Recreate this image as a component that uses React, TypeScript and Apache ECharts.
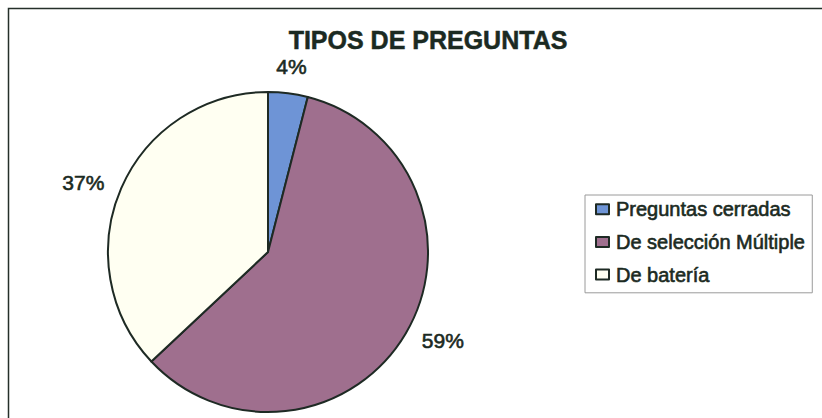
import React, { useEffect, useRef } from "react";
import * as echarts from "echarts";

const titleText = "TIPOS DE PREGUNTAS";
const categories = ["Preguntas cerradas", "De selección Múltiple", "De batería"];
const values = [4, 59, 37];
const sliceColors = ["#6e94d6", "#9f6f8e", "#fffff2"];

const inkColor = "#1b2a22";
const fontFamily = "'Liberation Sans', Arial, sans-serif";

export default function App() {
  const ref = useRef<HTMLDivElement>(null);

  useEffect(() => {
    if (!ref.current) return;
    const chart = echarts.init(ref.current, undefined, { renderer: "svg" });
    const data = categories.map((name, i) => ({
      name,
      value: values[i],
      itemStyle: { color: sliceColors[i] },
      labelLine: i === 0 ? { length: 27, length2: 0 } : undefined,
      label: i === 0 ? { distanceToLabelLine: 0 } : undefined,
    }));
    chart.setOption({
      animation: false,
      backgroundColor: "#ffffff",
      title: {
        text: titleText,
        left: 423,
        top: 22,
        textAlign: "center",
        textStyle: {
          fontFamily,
          fontSize: 25,
          fontWeight: "bold",
          color: inkColor,
          textBorderColor: inkColor,
          textBorderWidth: 0.5,
        },
      },
      legend: {
        orient: "vertical",
        left: 585,
        top: 195,
        padding: [4, 7, 8, 10],
        itemGap: 12,
        itemWidth: 13,
        itemHeight: 10,
        icon: "rect",
        borderColor: "#9a9a9a",
        borderWidth: 1,
        data: categories,
        textStyle: {
          fontFamily,
          fontSize: 20,
          color: inkColor,
          textBorderColor: inkColor,
          textBorderWidth: 0.6,
          padding: [0, 0, 0, 2],
        },
      },
      graphic: [
        {
          type: "rect",
          shape: { x: 8.5, y: 8.5, width: 900, height: 500 },
          style: { fill: "none", stroke: "#25302a", lineWidth: 1.5 },
          silent: true,
        },
      ],
      series: [
        {
          type: "pie",
          center: [268, 252],
          radius: 160,
          startAngle: 90,
          clockwise: true,
          avoidLabelOverlap: false,
          data,
          itemStyle: {
            borderColor: "#1e2a24",
            borderWidth: 2,
          },
          label: {
            show: true,
            position: "outside",
            formatter: "{d}%",
            fontFamily,
            fontSize: 21,
            color: inkColor,
            textBorderColor: inkColor,
            textBorderWidth: 0.6,
            distanceToLabelLine: 4,
          },
          labelLine: { show: false, length: 14, length2: 0 },
          labelLayout: (params: any) =>
            params.dataIndex === 0 ? { align: "center" } : {},
          emphasis: { disabled: true },
        },
      ],
    });
    return () => chart.dispose();
  }, []);

  return (
    <div
      ref={ref}
      style={{ position: "fixed", left: 0, top: 0, width: 822, height: 418 }}
    />
  );
}
